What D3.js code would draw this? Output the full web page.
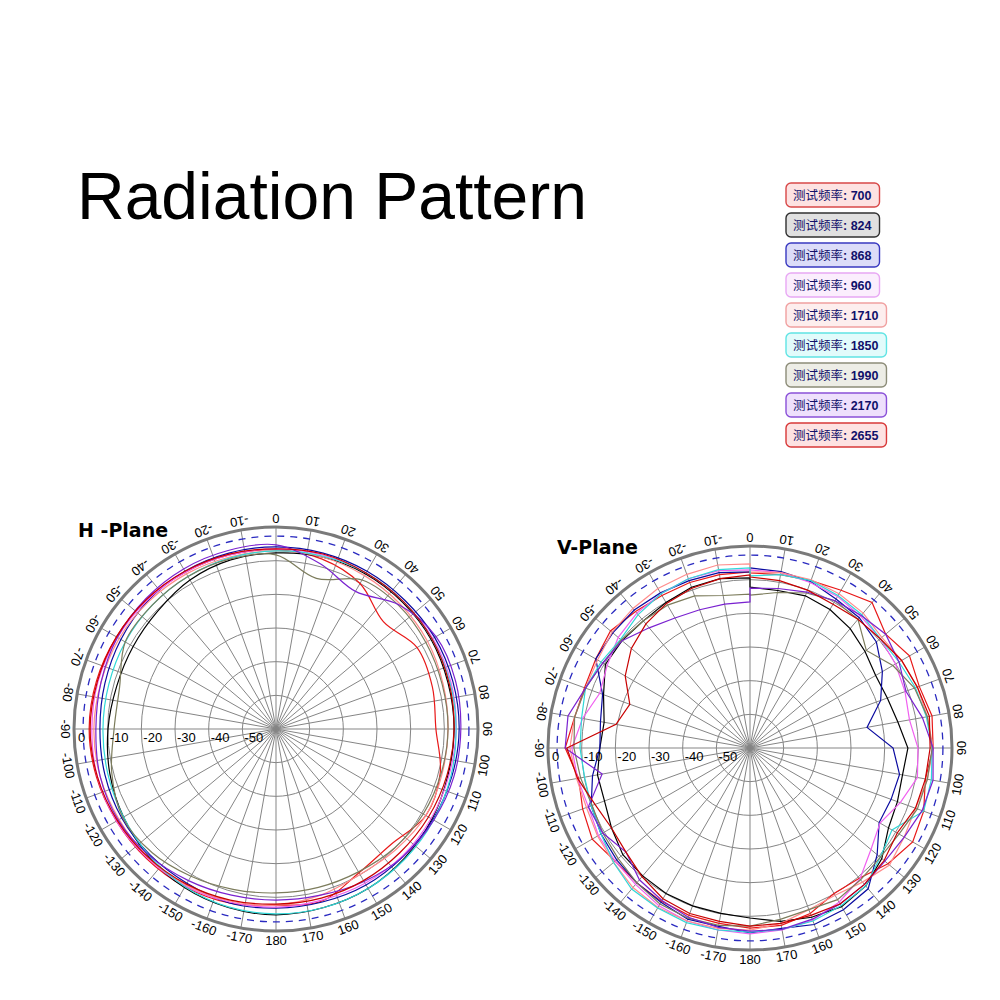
<!DOCTYPE html>
<html>
<head>
<meta charset="utf-8">
<script src="https://cdn.jsdelivr.net/npm/d3@7"></script>
<style>
  body { margin: 0; background: #fff; }
  svg { display: block; }
</style>
</head>
<body>
<div id="chart"></div>
<script>
// Legend / series
var freqs = ["700", "824", "868", "960", "1710", "1850", "1990", "2170", "2655"];
var lineColors = ["#e81818", "#000000", "#0a0aa0", "#f060f0", "#ff8c8c", "#30d8d8", "#7c7c5c", "#7a22d0", "#c80000"];
var boxStroke = ["#d84848", "#303030", "#3838c0", "#e8a8f4", "#f0a0a0", "#60e4e4", "#8c8c78", "#8a50d8", "#d83838"];
var boxFill = ["#fde2e2", "#e0e0e0", "#dcdcf8", "#fbeefd", "#fdeeee", "#e2fbfb", "#ededE6", "#eee0fc", "#fde2e2"];

// H-plane: dB every 15 deg (0..345)
var hAngles = d3.range(0, 360, 15);
var h700 = [-6.8, -7.7, -10.1, -14.9, -11.6, -11.9, -12.5, -9.5, -8.6, -11.6, -10.7, -7.1, -7.7, -6.5, -5.9, -5.6, -5.3, -4.8, -4.5, -4.8, -5.3, -5.6, -6.2, -6.5];
var h824 = [-7.7, -7.1, -6.8, -6.8, -6.8, -7.1, -7.1, -7.1, -6.5, -5.9, -5.3, -5.1, -4.8, -5.1, -5.6, -6.5, -7.7, -8.9, -10.1, -11.0, -11.0, -10.4, -8.9, -8.0];
var h868 = [-5.9, -5.9, -5.9, -5.9, -5.6, -5.6, -5.6, -5.9, -6.2, -6.5, -6.5, -6.8, -6.8, -6.5, -7.1, -7.1, -7.1, -7.4, -7.7, -7.4, -6.8, -6.2, -5.9, -5.9];
var h960 = [-6.5, -6.5, -6.5, -6.5, -6.2, -6.2, -6.5, -6.8, -6.8, -6.8, -7.1, -7.4, -7.1, -6.8, -6.2, -5.9, -5.3, -5.1, -5.3, -5.3, -5.6, -5.9, -6.2, -6.5];
var h1710 = [-7.1, -7.1, -7.4, -7.7, -8.0, -8.6, -8.9, -8.9, -8.6, -9.5, -10.1, -8.9, -7.7, -7.1, -6.5, -6.2, -6.2, -5.9, -5.9, -6.2, -6.2, -6.5, -6.8, -7.1];
var h1850 = [-7.1, -6.8, -6.5, -6.5, -6.5, -6.5, -6.5, -6.2, -5.9, -5.6, -5.3, -5.1, -5.1, -5.3, -5.9, -6.8, -7.7, -8.3, -8.6, -8.6, -8.3, -8.0, -7.7, -7.4];
var h1990 = [-8.3, -13.7, -8.9, -8.3, -8.6, -8.9, -8.9, -9.2, -9.5, -10.1, -11.0, -11.3, -11.3, -10.7, -9.5, -8.0, -7.4, -9.5, -11.9, -11.9, -8.3, -8.0, -7.7, -7.7];
var h2170 = [-5.3, -9.2, -12.8, -8.0, -5.1, -4.8, -5.1, -5.3, -5.9, -6.5, -7.7, -8.9, -9.2, -8.9, -8.0, -6.8, -5.9, -5.9, -6.5, -6.2, -5.6, -5.3, -5.1, -5.1];
var h2655 = [-6.5, -6.2, -6.5, -6.5, -6.5, -6.8, -7.1, -7.4, -7.7, -8.0, -8.0, -8.0, -8.0, -7.4, -6.8, -6.2, -5.6, -5.1, -4.8, -5.1, -5.3, -5.6, -5.9, -6.2];

// V-plane: dB every 10 deg (0..360, start and end differ)
var vAngles = d3.range(0, 361, 10);
var v700 = [-8.0, -7.7, -7.1, -5.9, -3.6, -7.4, -5.3, -6.5, -5.1, -5.6, -7.1, -5.1, -4.2, -6.5, -9.5, -10.1, -7.7, -6.5, -6.5, -7.1, -7.1, -7.4, -7.7, -7.7, -5.9, -7.1, -8.3, -5.1, -7.1, -7.7, -7.1, -5.9, -7.1, -7.7, -7.7, -7.7, -7.7];
var v824 = [-12.2, -12.5, -11.9, -12.5, -13.7, -15.4, -16.9, -16.6, -15.4, -13.1, -14.0, -13.4, -12.5, -8.9, -6.5, -5.6, -6.5, -7.7, -9.5, -10.1, -10.1, -10.1, -10.4, -10.7, -12.5, -14.0, -14.0, -15.4, -16.0, -13.7, -10.4, -10.4, -10.7, -10.1, -9.2, -8.9, -9.5];
var v868 = [-6.5, -6.8, -7.4, -8.9, -9.5, -11.0, -14.6, -18.7, -24.7, -17.5, -14.9, -15.4, -15.7, -10.7, -5.4, -4.5, -4.2, -5.6, -5.1, -6.2, -5.9, -7.1, -7.7, -8.3, -8.9, -9.8, -12.5, -15.4, -14.9, -13.4, -7.1, -6.8, -6.5, -6.8, -7.1, -7.1, -7.7];
var v960 = [-7.1, -7.1, -7.7, -8.0, -8.9, -9.5, -10.1, -11.0, -11.9, -10.1, -9.5, -12.5, -15.4, -13.1, -9.2, -7.1, -5.6, -5.1, -4.8, -5.1, -5.3, -5.9, -7.1, -7.7, -8.0, -8.9, -8.0, -7.1, -9.5, -12.5, -11.0, -8.9, -7.7, -7.1, -6.5, -6.5, -7.1];
var v1710 = [-7.7, -7.1, -6.8, -7.1, -7.7, -8.9, -8.0, -7.1, -6.5, -5.6, -6.5, -7.7, -7.1, -5.9, -8.0, -9.5, -8.9, -7.1, -5.9, -5.6, -5.3, -5.3, -5.9, -7.1, -7.7, -8.3, -7.7, -6.5, -7.1, -8.0, -7.7, -6.5, -5.9, -5.3, -5.1, -4.8, -5.3];
var v1850 = [-8.9, -7.7, -7.1, -7.7, -8.3, -9.5, -8.9, -7.7, -6.8, -5.9, -5.3, -5.1, -11.3, -9.5, -6.5, -5.9, -5.3, -5.3, -5.3, -5.1, -4.8, -5.1, -5.3, -7.1, -8.9, -9.8, -10.1, -9.5, -9.2, -8.0, -8.9, -9.8, -8.3, -7.1, -6.5, -6.2, -6.5];
var v1990 = [-14.6, -13.1, -11.0, -9.5, -10.1, -14.9, -11.0, -8.0, -6.5, -5.9, -6.5, -7.1, -8.9, -9.5, -8.9, -8.0, -8.9, -8.3, -7.1, -6.5, -6.2, -6.5, -7.7, -8.9, -9.5, -10.1, -8.9, -7.7, -7.1, -8.0, -9.5, -10.1, -10.7, -11.0, -11.9, -14.0, -14.3];
var v2170 = [-12.5, -11.9, -10.7, -9.5, -8.6, -7.4, -8.9, -10.7, -8.0, -5.6, -4.8, -5.6, -7.1, -7.7, -7.1, -6.5, -5.9, -5.3, -5.6, -5.9, -6.5, -7.7, -8.9, -11.9, -9.5, -8.9, -15.4, -5.1, -5.1, -8.0, -9.5, -10.4, -13.4, -15.4, -16.3, -16.6, -16.6];
var v2655 = [-9.2, -9.5, -10.1, -10.7, -10.1, -9.5, -8.0, -7.1, -5.9, -6.5, -7.1, -7.7, -9.5, -8.0, -7.1, -6.5, -7.1, -7.1, -7.1, -7.7, -7.7, -8.3, -10.1, -11.9, -12.5, -11.0, -8.0, -5.6, -19.6, -22.0, -17.2, -14.0, -11.9, -10.4, -9.5, -8.9, -8.6];

var hSeries = [h700, h824, h868, h960, h1710, h1850, h1990, h2170, h2655];
var vSeries = [v700, v824, v868, v960, v1710, v1850, v1990, v2170, v2655];

var ringTicks = [-50, -40, -30, -20, -10];
var ringLabels = [0, -10, -20, -30, -40, -50];

var svg = d3.select("#chart").append("svg")
  .attr("width", 1000)
  .attr("height", 1000);

// Title
svg.append("text")
  .attr("x", 77)
  .attr("y", 219)
  .attr("font-family", "Liberation Sans, Arial, sans-serif")
  .attr("font-size", 66)
  .attr("fill", "#000")
  .text("Radiation Pattern");

// Legend
var legend = svg.append("g");
freqs.forEach(function (f, i) {
  var g = legend.append("g").attr("transform", `translate(786, ${183 + i * 30})`);
  var rect = g.append("rect")
    .attr("y", 0)
    .attr("height", 24)
    .attr("rx", 5)
    .attr("fill", boxFill[i])
    .attr("stroke", boxStroke[i])
    .attr("stroke-width", 1.4);
  var t = g.append("text")
    .attr("x", 7)
    .attr("y", 17)
    .attr("fill", "#10106a");
  t.append("tspan")
    .attr("font-family", "Noto Sans CJK SC")
    .attr("font-size", 12.5)
    .text("测试频率");
  t.append("tspan")
    .attr("font-family", "Liberation Sans, Arial")
    .attr("font-weight", "bold")
    .attr("font-size", 12.5)
    .text(": " + f);
  var w = t.node().getComputedTextLength();
  rect.attr("width", w + 15);
});

// Polar plot builder
function drawPolar(cx, cy, title, tx, ty, angles, series, curve) {
  var rScale = d3.scaleLinear().domain([-60, 0]).range([0, 202]);
  var g = svg.append("g").attr("transform", `translate(${cx}, ${cy})`);

  // rings
  g.selectAll(".ring")
    .data(ringTicks)
    .enter()
    .append("circle")
    .attr("r", d => rScale(d))
    .attr("fill", "none")
    .attr("stroke", "#858585")
    .attr("stroke-width", 1);

  // spokes
  var spokeAngles = d3.range(0, 360, 10);
  g.selectAll(".spoke")
    .data(spokeAngles)
    .enter()
    .append("line")
    .attr("x1", 0)
    .attr("y1", 0)
    .attr("x2", d => rScale(0) * Math.sin(d * Math.PI / 180))
    .attr("y2", d => -rScale(0) * Math.cos(d * Math.PI / 180))
    .attr("stroke", "#858585")
    .attr("stroke-width", 1);

  // dashed ring
  g.append("circle")
    .attr("r", rScale(-2.7))
    .attr("fill", "none")
    .attr("stroke", "#2a2ac0")
    .attr("stroke-width", 1.3)
    .attr("stroke-dasharray", "7,6");

  // outer ring
  g.append("circle")
    .attr("r", rScale(0))
    .attr("fill", "none")
    .attr("stroke", "#7a7a7a")
    .attr("stroke-width", 3);

  // angle labels
  g.selectAll(".alabel")
    .data(spokeAngles)
    .enter()
    .append("text")
    .attr("transform", function (d) {
      var rr = rScale(0) + 9;
      var x = rr * Math.sin(d * Math.PI / 180);
      var y = -rr * Math.cos(d * Math.PI / 180);
      return `translate(${x}, ${y}) rotate(${d - 180})`;
    })
    .attr("text-anchor", "middle")
    .attr("dominant-baseline", "central")
    .attr("font-family", "Liberation Sans, Arial")
    .attr("font-size", 13)
    .attr("fill", "#000")
    .text(d => d <= 180 ? d : d - 360);

  // series
  var line = d3.lineRadial()
    .angle((d, i) => angles[i] * Math.PI / 180)
    .radius(d => rScale(d))
    .curve(curve);

  series.forEach(function (s, i) {
    g.append("path")
      .datum(s)
      .attr("d", line)
      .attr("fill", "none")
      .attr("stroke", lineColors[i])
      .attr("stroke-width", 1.2);
  });

  // dB labels along the left axis
  g.selectAll(".rlabel")
    .data(ringLabels)
    .enter()
    .append("text")
    .attr("x", d => -rScale(d) + (d === 0 ? 4 : 2))
    .attr("y", 13)
    .attr("font-family", "Liberation Sans, Arial")
    .attr("font-size", 13)
    .attr("fill", "#000")
    .text(d => d);

  svg.append("text")
    .attr("x", tx)
    .attr("y", ty)
    .attr("font-family", "DejaVu Sans")
    .attr("font-weight", "bold")
    .attr("font-size", 19)
    .attr("fill", "#000")
    .text(title);
}

drawPolar(276, 729, "H -Plane", 78, 537, hAngles, hSeries, d3.curveCardinalClosed);
drawPolar(750, 748, "V-Plane", 557, 554, vAngles, vSeries, d3.curveLinearClosed);
</script>
</body>
</html>
